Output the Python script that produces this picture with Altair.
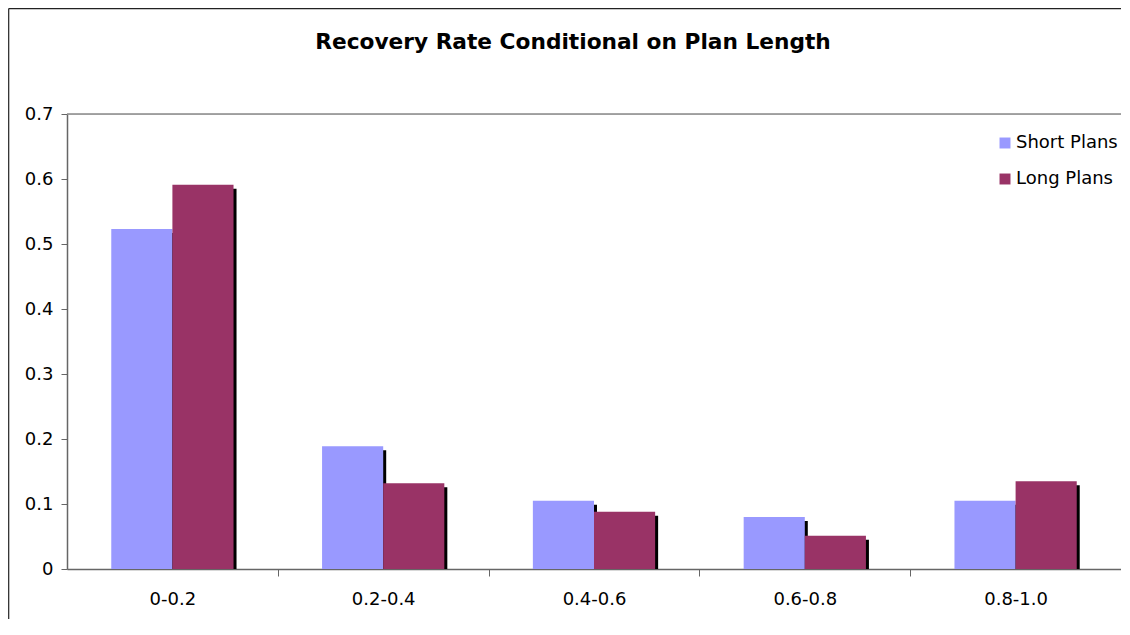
import altair as alt
import pandas as pd

categories = ["0-0.2", "0.2-0.4", "0.4-0.6", "0.6-0.8", "0.8-1.0"]
short_plans = [0.523, 0.189, 0.105, 0.080, 0.105]
long_plans = [0.591, 0.132, 0.088, 0.051, 0.135]
series_names = ["Short Plans", "Long Plans"]
series_colors = ["#9999FF", "#993366"]
y_ticks = [0, 0.1, 0.2, 0.3, 0.4, 0.5, 0.6, 0.7]
title_text = "Recovery Rate Conditional on Plan Length"

rows = []
for c, s, l in zip(categories, short_plans, long_plans):
    rows.append({"cat": c, "series": series_names[0], "value": s})
    rows.append({"cat": c, "series": series_names[1], "value": l})
df = pd.DataFrame(rows)

W, H = 1054, 455
FONT = "DejaVu Sans"
STEP = W / 5.0
BANDW = STEP * 0.58

x_enc = alt.X("cat:N", sort=categories,
              scale=alt.Scale(paddingInner=0.42, paddingOuter=0.21),
              axis=alt.Axis(title=None, labelAngle=0, labelFontSize=18, labelFont=FONT,
                            labelColor="#000", labelPadding=14, tickOffset=STEP / 2,
                            labelOffset=-STEP / 2,
                            tickSize=7, tickColor="#666", domainColor="#666",
                            domainWidth=1.5, grid=False))
y_enc = alt.Y("value:Q", scale=alt.Scale(domain=[0, 0.7], nice=False),
              axis=alt.Axis(title=None, values=y_ticks, labelFontSize=18, labelFont=FONT,
                            labelColor="#000", labelPadding=8, tickSize=6,
                            tickColor="#666", domainColor="#666", domainWidth=1.5,
                            grid=False,
                            labelExpr="datum.value == 0 ? '0' : format(datum.value, '.1f')"))

shadow = alt.Chart(df).mark_bar(color="black", yOffset=4, clip=True).encode(
    x=x_enc, y=y_enc,
    xOffset=alt.XOffset("series:N", sort=series_names,
                        scale=alt.Scale(paddingInner=0, range=[3, 3 + BANDW])))

bars = alt.Chart(df).mark_bar().encode(
    x=x_enc, y=y_enc,
    xOffset=alt.XOffset("series:N", sort=series_names,
                        scale=alt.Scale(paddingInner=0, range=[0, BANDW])),
    color=alt.Color("series:N", sort=series_names,
                    scale=alt.Scale(domain=series_names, range=series_colors),
                    legend=alt.Legend(title=None, orient="none", legendX=929, legendY=20,
                                      symbolType="square", symbolSize=120,
                                      symbolStrokeWidth=0, labelFontSize=18,
                                      labelFont=FONT, labelColor="#000",
                                      rowPadding=18, labelOffset=2)))

top_line = alt.Chart(pd.DataFrame({"v": [0.7]})).mark_rule(color="#888", strokeWidth=1.5).encode(
    y="v:Q")

frame_left = alt.Chart(pd.DataFrame({"a": [0]})).mark_rule(color="#222", strokeWidth=1.2, clip=False).encode(
    x=alt.value(-58.3), y=alt.value(-105.5), y2=alt.value(H + 60))
frame_top = alt.Chart(pd.DataFrame({"a": [0]})).mark_rule(color="#222", strokeWidth=1.2, clip=False).encode(
    x=alt.value(-58.3), x2=alt.value(W), y=alt.value(-105.3))

title = alt.Chart(pd.DataFrame({"t": [title_text]})).mark_text(
    font=FONT, fontSize=21.7, fontWeight="bold", color="#000", baseline="middle", align="center"
).encode(text="t:N", x=alt.value(506), y=alt.value(-72))

chart = alt.layer(shadow, bars, top_line, frame_left, frame_top, title).resolve_scale(
    xOffset="independent"
).properties(
    width=W, height=H,
    autosize=alt.AutoSizeParams(type="none"),
    padding={"left": 59, "top": 106, "right": 0, "bottom": 50},
).configure_view(stroke=None).configure(background="white")

chart.save("out.html", embed_options={"renderer": "svg", "actions": False})
